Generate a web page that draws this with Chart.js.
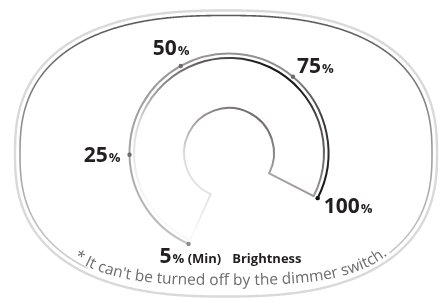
<!DOCTYPE html>
<html><head><meta charset="utf-8">
<script src="https://cdn.jsdelivr.net/npm/chart.js@4"></script>
<style>html,body{margin:0;padding:0;background:#fff;overflow:hidden}canvas{display:block}</style>
</head><body>
<canvas id="c" width="442" height="298"></canvas>
<script>
// ---- data ----
const levels = [5, 25, 50, 75, 100];               // brightness steps (%)
const levelNames = ['5', '25', '50', '75', '100'];  // tick labels
const knobAngles = [-156, -91, -29, 40, 117];       // dial position of each step, degrees clockwise from 12 o'clock
const minNote = '% (Min)';
const titleText = 'Brightness';
const footnote = "* It can't be turned off by the dimmer switch.";

// ---- derived (for the library) ----
const trackSpans = knobAngles.slice(1).map((a, i) => a - knobAngles[i]);
const sweep = knobAngles[knobAngles.length - 1] - knobAngles[0];

// ---- style ----
const DARK = '#231f20';
const FONT = '"Open Sans", "Noto Sans", sans-serif';
const labelPlace = [[-29, 19, 'left'], [-9, 7, 'right'], [-28, -11, 'left'], [4, -4, 'left'], [6, 15, 'left']];
const dotColors = ['#8c8c8c', '#6c6c6c', '#6c6c6c', '#6c6c6c', '#111111'];
const trackStops = [[0, '#c6c6c6'], [0.18, '#a6a6a6'], [0.35, '#989898'], [0.54, '#8c8c8c'], [0.63, '#3c3c3c'], [0.76, '#141414'], [1, '#c6c6c6']];
const sectorStops = [[0, '#1a1a1a'], [0.08, '#4c4747'], [0.3, '#7a7474'], [0.45, '#9c9696'], [0.65, '#d9d7d7'], [1, '#f8f8f8']];
const R_OUT = 100.5, R_IN = 45, W_TRACK = 2, W_GAP = 3.5;
const W_SECTOR = R_OUT - R_IN - W_TRACK - W_GAP;

function center(chart) { const a = chart.chartArea; return { x: (a.left + a.right) / 2, y: (a.top + a.bottom) / 2 }; }

function trackFill(c) {
  const chart = c.chart; if (!chart.chartArea) return '#999';
  const { x, y } = center(chart);
  const g = chart.ctx.createConicGradient((knobAngles[0] - 90) * Math.PI / 180, x, y);
  trackStops.forEach(([f, col]) => g.addColorStop(f, col));
  return g;
}
function sectorStroke(c) {
  const chart = c.chart; if (!chart.chartArea) return '#888';
  const { x, y } = center(chart);
  const g = chart.ctx.createLinearGradient(x + 67, y - 67, x - 32, y + 82);
  sectorStops.forEach(([f, col]) => g.addColorStop(f, col));
  return g;
}

// superellipse helper for the frame and the footnote path
function sePoint(cx, cy, a, b, n, t) {
  const c = Math.cos(t), s = Math.sin(t);
  return { x: cx + a * Math.sign(c) * Math.pow(Math.abs(c), 2 / n), y: cy + b * Math.sign(s) * Math.pow(Math.abs(s), 2 / n) };
}
const FR = { cx: 226, cy: 153.5, n: 2.5 };
const TXT = { cx: 228, cy: 168, a: 190, b: 117, n: 3, mid: 231 };

const framePlugin = {
  id: 'frame',
  beforeDatasetsDraw(chart) {
    const ctx = chart.ctx;
    ctx.save();
    // outer light outline
    ctx.beginPath();
    for (let i = 0; i <= 720; i++) {
      const p = sePoint(FR.cx, FR.cy, 211, 143, FR.n, i / 720 * Math.PI * 2);
      i ? ctx.lineTo(p.x, p.y) : ctx.moveTo(p.x, p.y);
    }
    ctx.closePath();
    ctx.strokeStyle = '#d9d9d9'; ctx.lineWidth = 2.4; ctx.stroke();

    // footnote baseline path (bottom half, left -> right)
    const N = 3000, pts = [], cum = [0];
    for (let i = 0; i <= N; i++) {
      const t = Math.PI - i / N * Math.PI;
      pts.push(sePoint(TXT.cx, TXT.cy, TXT.a, TXT.b, TXT.n, t));
      if (i) cum.push(cum[i - 1] + Math.hypot(pts[i].x - pts[i - 1].x, pts[i].y - pts[i - 1].y));
    }
    ctx.font = '400 15.5px ' + FONT;
    const W = ctx.measureText(footnote).width;
    let sc = 0; for (let i = 0; i <= N; i++) { if (pts[i].x >= TXT.mid) { sc = cum[i]; break; } }
    const s0 = sc - W / 2;
    const at = (s) => { let i = 1; while (i < N && cum[i] < s) i++; const p0 = pts[i - 1], p1 = pts[i]; const f = (s - cum[i - 1]) / (cum[i] - cum[i - 1] || 1); return { x: p0.x + (p1.x - p0.x) * f, y: p0.y + (p1.y - p0.y) * f, ang: Math.atan2(p1.y - p0.y, p1.x - p0.x) }; };
    const startP = at(s0), endP = at(s0 + W);

    // inner darker outline with a gap where the footnote sits
    const g = ctx.createLinearGradient(0, 15, 0, 275);
    g.addColorStop(0, '#5a5a5a'); g.addColorStop(0.5, '#999999'); g.addColorStop(1, '#d4d4d4');
    ctx.strokeStyle = g; ctx.lineWidth = 1.6;
    ctx.beginPath();
    let pen = false;
    for (let i = 0; i <= 1440; i++) {
      const t = -Math.PI / 2 + i / 1440 * Math.PI * 2;
      const p = sePoint(FR.cx, FR.cy, 206, 138, FR.n, t);
      const inGap = p.y > FR.cy && p.x > startP.x + 14 && p.x < endP.x + 2;
      if (inGap) { pen = false; continue; }
      if (!pen) { ctx.moveTo(p.x, p.y); pen = true; } else ctx.lineTo(p.x, p.y);
    }
    ctx.stroke();

    // footnote glyphs
    ctx.fillStyle = '#6c6c6c'; ctx.textAlign = 'center'; ctx.textBaseline = 'alphabetic';
    for (let i = 0; i < footnote.length; i++) {
      const ch = footnote[i];
      const x0 = ctx.measureText(footnote.slice(0, i)).width;
      const w = ctx.measureText(ch).width;
      const p = at(s0 + x0 + w / 2);
      ctx.save(); ctx.translate(p.x, p.y); ctx.rotate(p.ang); ctx.fillText(ch, 0, 0); ctx.restore();
    }
    ctx.restore();
  }
};

const marksPlugin = {
  id: 'marks',
  afterDatasetsDraw(chart) {
    const ctx = chart.ctx;
    const arcs = chart.getDatasetMeta(0).data;
    const pts = [];
    const pt = (p, a) => { const r = (p.innerRadius + p.outerRadius) / 2; return { x: p.x + r * Math.cos(a), y: p.y + r * Math.sin(a) }; };
    arcs.forEach((arc, i) => {
      const p = arc.getProps(['x', 'y', 'startAngle', 'endAngle', 'innerRadius', 'outerRadius'], true);
      if (i === 0) pts.push(pt(p, p.startAngle));
      pts.push(pt(p, p.endAngle));
    });
    ctx.save();
    pts.forEach((p, i) => {
      ctx.beginPath(); ctx.arc(p.x, p.y, 2.2, 0, Math.PI * 2); ctx.fillStyle = dotColors[i]; ctx.fill();
    });
    ctx.fillStyle = DARK; ctx.textBaseline = 'alphabetic'; ctx.textAlign = 'left';
    pts.forEach((p, i) => {
      const [dx, dy, align] = labelPlace[i];
      const big = '700 21px ' + FONT, small = '700 13px ' + FONT;
      const suffix = i === 0 ? minNote : '%';
      ctx.font = big; const wb = ctx.measureText(levelNames[i]).width;
      ctx.font = small; const ws = ctx.measureText(suffix).width;
      let x = p.x + dx; const y = p.y + dy;
      if (align === 'right') x -= wb + 1 + ws;
      ctx.font = big; ctx.fillText(levelNames[i], x, y);
      ctx.font = small; ctx.fillText(suffix, x + wb + 1, y);
      if (i === 0) ctx.fillText(titleText, x + wb + 1 + ws + 11, y);
    });
    ctx.restore();
  }
};

new Chart(document.getElementById('c'), {
  type: 'doughnut',
  data: {
    labels: levelNames.slice(1),
    datasets: [
      { data: trackSpans, rotation: knobAngles[0], circumference: sweep, weight: W_TRACK, backgroundColor: trackFill, borderWidth: 0 },
      { data: [1], rotation: 0, circumference: 360, weight: W_GAP, backgroundColor: 'rgba(0,0,0,0)', borderWidth: 0 },
      { data: [sweep], rotation: knobAngles[0], circumference: sweep, weight: W_SECTOR, backgroundColor: 'rgba(0,0,0,0)', borderColor: sectorStroke, borderWidth: 2, borderJoinStyle: 'miter', borderAlign: 'center' }
    ]
  },
  options: {
    responsive: false, animation: false, events: [],
    radius: R_OUT, cutout: (R_IN / R_OUT * 100) + '%',
    layout: { padding: { left: 16, top: 8, right: 0, bottom: 0 } },
    plugins: { legend: { display: false }, tooltip: { enabled: false } }
  },
  plugins: [framePlugin, marksPlugin]
});
</script>
</body></html>
